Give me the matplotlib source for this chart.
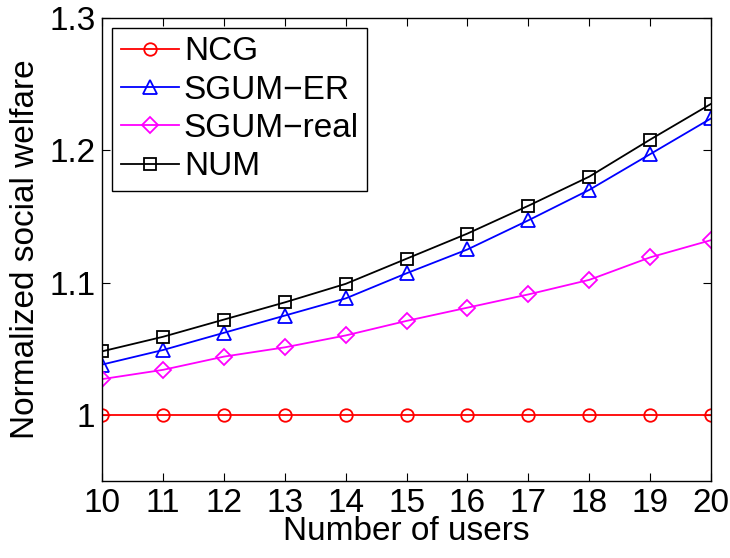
import numpy as np
import matplotlib
matplotlib.use("Agg")
import matplotlib.pyplot as plt

plt.rcParams['font.family'] = ['Liberation Sans', 'DejaVu Sans']

users = [10, 11, 12, 13, 14, 15, 16, 17, 18, 19, 20]
ncg = [1.0, 1.0, 1.0, 1.0, 1.0, 1.0, 1.0, 1.0, 1.0, 1.0, 1.0]
sgum_er = [1.038, 1.049, 1.062, 1.075, 1.088, 1.107, 1.125, 1.147, 1.170, 1.197, 1.224]
sgum_real = [1.027, 1.034, 1.044, 1.051, 1.060, 1.071, 1.081, 1.091, 1.102, 1.119, 1.132]
num = [1.048, 1.059, 1.072, 1.085, 1.099, 1.118, 1.137, 1.158, 1.180, 1.208, 1.235]

fig = plt.figure(figsize=(7.3, 5.58), dpi=100)
ax = fig.add_axes([0.14, 0.138, 0.834, 0.830])

ms = 9
ax.plot(users, ncg, color="red", marker="o", mfc="none", ms=ms, mew=1.3, lw=1.3, label="NCG")
ax.plot(users, sgum_er, color="blue", marker="^", mfc="none", ms=ms + 1, mew=1.3, lw=1.3, label="SGUM\u2212ER")
ax.plot(users, sgum_real, color="magenta", marker="D", mfc="none", ms=ms - 1, mew=1.3, lw=1.3, label="SGUM\u2212real")
ax.plot(users, num, color="black", marker="s", mfc="none", ms=ms - 1, mew=1.3, lw=1.3, label="NUM")

ax.set_xlim(10, 20)
ax.set_ylim(0.95, 1.3)
ax.set_xticks(users)
ax.set_yticks([1.0, 1.1, 1.2, 1.3])
ax.set_yticklabels(["1", "1.1", "1.2", "1.3"])
ax.tick_params(direction="in", top=True, right=True, labelsize=24, length=6, pad=5)
for s in ax.spines.values():
    s.set_linewidth(1.0)

ax.set_xlabel("Number of users", fontsize=24, labelpad=-2)
ax.set_ylabel("Normalized social welfare", fontsize=24, labelpad=6)

leg = ax.legend(loc="upper left", fontsize=24, fancybox=False, framealpha=1,
                edgecolor="black", handlelength=1.75, handletextpad=0.15,
                borderaxespad=0.3, labelspacing=0.22, borderpad=0.25)
leg.get_frame().set_linewidth(1.0)

plt.savefig("out.png", dpi=100)
